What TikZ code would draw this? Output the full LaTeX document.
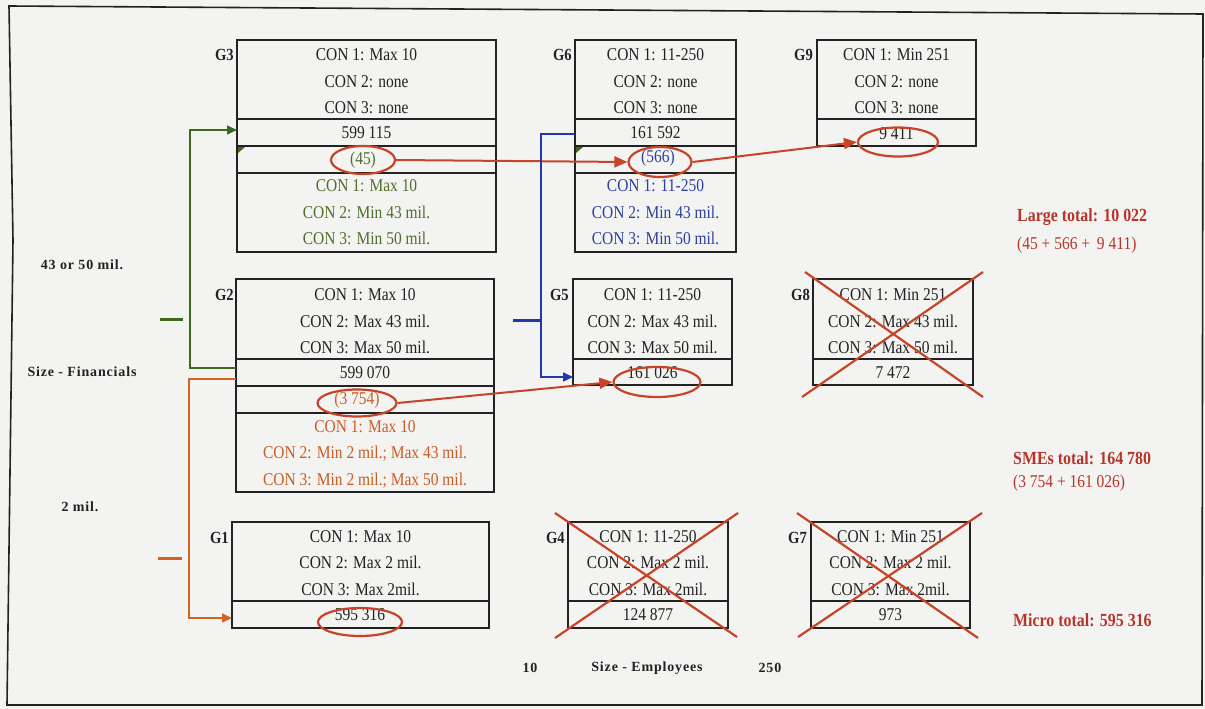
\documentclass[tikz,border=0pt]{standalone}
\usepackage{fontspec}
\setmainfont{Liberation Serif}[FakeStretch=0.86]
\newfontfamily\axisfont{Liberation Serif}[LetterSpace=6]
\usetikzlibrary{arrows.meta,shapes.geometric}

\definecolor{bg}{RGB}{243,243,241}
\definecolor{ink}{RGB}{34,34,34}
\definecolor{mark}{RGB}{200,68,40}
\definecolor{totred}{RGB}{184,52,40}
\definecolor{grn}{RGB}{62,104,32}
\definecolor{grntxt}{RGB}{78,112,44}
\definecolor{org}{RGB}{212,98,34}
\definecolor{orgtxt}{RGB}{204,92,36}
\definecolor{blu}{RGB}{32,56,168}
\definecolor{blutxt}{RGB}{44,64,160}

\tikzset{
  frame/.style={draw=ink, line width=1.8pt},
  conds/.style={font=\fontsize{18}{26.5}\selectfont, align=center, text=ink, inner sep=0pt},
  cell/.style={font=\fontsize{18}{22}\selectfont, text=ink, inner sep=0pt},
  glabel/.style={font=\fontsize{17}{20}\selectfont\bfseries, text=ink, inner sep=0pt, anchor=east},
  oval/.style={ellipse, draw=mark, line width=2.2pt, inner sep=0pt},
  linkarrow/.style={draw=mark, line width=2pt, -{Triangle[length=13pt,width=11pt]}},
  cross/.style={draw=mark, line width=2.2pt},
  elbow/.style={line width=1.6pt, -{Triangle[length=10pt,width=9pt]}},
  tick/.style={line width=3pt},
  axis/.style={font=\fontsize{14}{18}\selectfont\axisfont\bfseries, text=ink, inner sep=0pt},
  total/.style={font=\fontsize{18.5}{22}\selectfont\bfseries, text=totred, anchor=west, inner sep=0pt},
  sum/.style={font=\fontsize{18}{22}\selectfont, text=totred, anchor=west, inner sep=0pt},
}

\begin{document}
\begin{tikzpicture}[x=1pt, y=-1pt]
  \useasboundingbox (0,0) rectangle (1205,709);
  \fill[bg] (0,0) rectangle (1205,709);
  % page frame
  \draw[draw=ink, line width=1.6pt] (9,6) -- (1203,14) -- (1202,705) -- (7,705) -- (13,240) -- cycle;

  % ---------------- top row: G3, G6, G9 ----------------
  \draw[frame] (237,40) rectangle (496,252);
  \draw[frame] (237,119) -- (496,119) (237,146) -- (496,146) (237,173) -- (496,173);
  \node[glabel] (g3l) at (234,55) {G3};
  \node[conds] (g3c) at (366.5,81.5) {CON 1: Max 10\\CON 2: none\\CON 3: none};
  \node[cell] (g3n) at (366.5,133) {599 115};
  \node[cell, text=grntxt] (g3m) at (363,160) {(45)};
  \node[conds, text=grntxt] (g3s) at (366.5,212.5) {CON 1: Max 10\\CON 2: Min 43 mil.\\CON 3: Min 50 mil.};

  \draw[frame] (575,40) rectangle (736,252);
  \draw[frame] (575,119) -- (736,119) (575,146) -- (736,146) (575,173) -- (736,173);
  \node[glabel] (g6l) at (572,55) {G6};
  \node[conds] (g6c) at (655.5,81.5) {CON 1: 11-250\\CON 2: none\\CON 3: none};
  \node[cell] (g6n) at (655.5,133) {161 592};
  \node[cell, text=blutxt] (g6m) at (658,158) {(566)};
  \node[conds, text=blutxt] (g6s) at (655.5,212.5) {CON 1: 11-250\\CON 2: Min 43 mil.\\CON 3: Min 50 mil.};

  \draw[frame] (817,40) rectangle (976,146);
  \draw[frame] (817,119) -- (976,119);
  \node[glabel] (g9l) at (813,55) {G9};
  \node[conds] (g9c) at (896.5,81.5) {CON 1: Min 251\\CON 2: none\\CON 3: none};
  \node[cell] (g9n) at (896.5,134) {9 411};

  % small green marks at the row corners
  \fill[grn] (238,147) -- (245,147) -- (238,153) -- cycle;
  \fill[grn] (576,147) -- (583,147) -- (576,153) -- cycle;

  % ---------------- middle row: G2, G5, G8 ----------------
  \draw[frame] (236,279) rectangle (494,492);
  \draw[frame] (236,359) -- (494,359) (236,386) -- (494,386) (236,413) -- (494,413);
  \node[glabel] (g2l) at (234,295) {G2};
  \node[conds] (g2c) at (365,321.5) {CON 1: Max 10\\CON 2: Max 43 mil.\\CON 3: Max 50 mil.};
  \node[cell] (g2n) at (365,372.5) {599 070};
  \node[cell, text=orgtxt] (g2m) at (357,400) {(3 754)};
  \node[conds, text=orgtxt] (g2s) at (365,454) {CON 1: Max 10\\CON 2: Min 2 mil.; Max 43 mil.\\CON 3: Min 2 mil.; Max 50 mil.};

  \draw[frame] (573,279) rectangle (732,385);
  \draw[frame] (573,359) -- (732,359);
  \node[glabel] (g5l) at (569,295) {G5};
  \node[conds] (g5c) at (652.5,321.5) {CON 1: 11-250\\CON 2: Max 43 mil.\\CON 3: Max 50 mil.};
  \node[cell] (g5n) at (652.5,373) {161 026};

  \draw[frame] (813,279) rectangle (973,385);
  \draw[frame] (813,359) -- (973,359);
  \node[glabel] (g8l) at (810,295) {G8};
  \node[conds] (g8c) at (893,321.5) {CON 1: Min 251\\CON 2: Max 43 mil.\\CON 3: Max 50 mil.};
  \node[cell] (g8n) at (893,373) {7 472};

  % ---------------- bottom row: G1, G4, G7 ----------------
  \draw[frame] (232,522) rectangle (489,628);
  \draw[frame] (232,601) -- (489,601);
  \node[glabel] (g1l) at (229,538) {G1};
  \node[conds] (g1c) at (360.5,563) {CON 1: Max 10\\CON 2: Max 2 mil.\\CON 3: Max 2mil.};
  \node[cell] (g1n) at (360,614.5) {595 316};

  \draw[frame] (568,522) rectangle (728,628);
  \draw[frame] (568,601) -- (728,601);
  \node[glabel] (g4l) at (565,538) {G4};
  \node[conds] (g4c) at (648,563) {CON 1: 11-250\\CON 2: Max 2 mil.\\CON 3: Max 2mil.};
  \node[cell] (g4n) at (648,614.5) {124 877};

  \draw[frame] (811,522) rectangle (970,628);
  \draw[frame] (811,601) -- (970,601);
  \node[glabel] (g7l) at (807,538) {G7};
  \node[conds] (g7c) at (890.5,563) {CON 1: Min 251\\CON 2: Max 2 mil.\\CON 3: Max 2mil.};
  \node[cell] (g7n) at (890.5,614.5) {973};

  % ---------------- highlighted counts ----------------
  \node[oval, minimum width=64pt, minimum height=28pt] (o45) at (363,160) {};
  \node[oval, minimum width=63pt, minimum height=30pt] (o566) at (660,162) {};
  \node[oval, minimum width=80pt, minimum height=29pt] (o9411) at (898,142) {};
  \node[oval, minimum width=79pt, minimum height=27pt] (o3754) at (357,403) {};
  \node[oval, minimum width=87pt, minimum height=30pt] (o161026) at (657,382) {};
  \node[oval, minimum width=84pt, minimum height=28pt] (o595316) at (360,622) {};

  \draw[linkarrow] (o45.east) -- (o566.west);
  \draw[linkarrow] (o566.east) -- (o9411.west);
  \draw[linkarrow] (o3754.east) -- (o161026.west);

  % ---------------- excluded groups ----------------
  \draw[cross] (805,272) -- (983,397) (802,397) -- (983,272);
  \draw[cross] (555,513) -- (737,637) (738,513) -- (555,638);
  \draw[cross] (797,513) -- (978,638) (982,513) -- (798,637);

  % ---------------- financial and employee splits ----------------
  \coordinate (gfrom) at (236,368);
  \coordinate (gto) at (237,130);
  \coordinate (ofrom) at (236,379);
  \coordinate (oto) at (232,618);
  \coordinate (bfrom) at (575,134);
  \coordinate (bto) at (573,377);
  \draw[elbow, draw=grn] (gfrom) -- ++(-46,0) |- (gto);
  \draw[elbow, draw=org] (ofrom) -- ++(-47,0) |- (oto);
  \draw[elbow, draw=blu] (bfrom) -- ++(-34,0) |- (bto);

  \draw[tick, draw=grn] (160,319) -- (183,319);
  \draw[tick, draw=org] (158,558) -- (182,558);
  \draw[tick, draw=blu] (513,320) -- (541,320);

  % ---------------- axis labels ----------------
  \node[axis] (fin1) at (82,265) {43 or 50 mil.};
  \node[axis] (fin0) at (82,372) {Size - Financials};
  \node[axis] (fin2) at (80,507) {2 mil.};
  \node[axis] (emp1) at (530,668) {10};
  \node[axis] (emp0) at (647,668) {Size - Employees};
  \node[axis] (emp2) at (770,668) {250};

  % ---------------- totals ----------------
  \node[total] (tl) at (1017,217) {Large total: 10 022};
  \node[sum] (sl) at (1017,245) {(45 + 566 + \,9 411)};
  \node[total] (ts) at (1013,458) {SMEs total: 164 780};
  \node[sum] (ss) at (1013,483) {(3 754 + 161 026)};
  \node[total] (tm) at (1013,620) {Micro total: 595 316};
\end{tikzpicture}
\end{document}
